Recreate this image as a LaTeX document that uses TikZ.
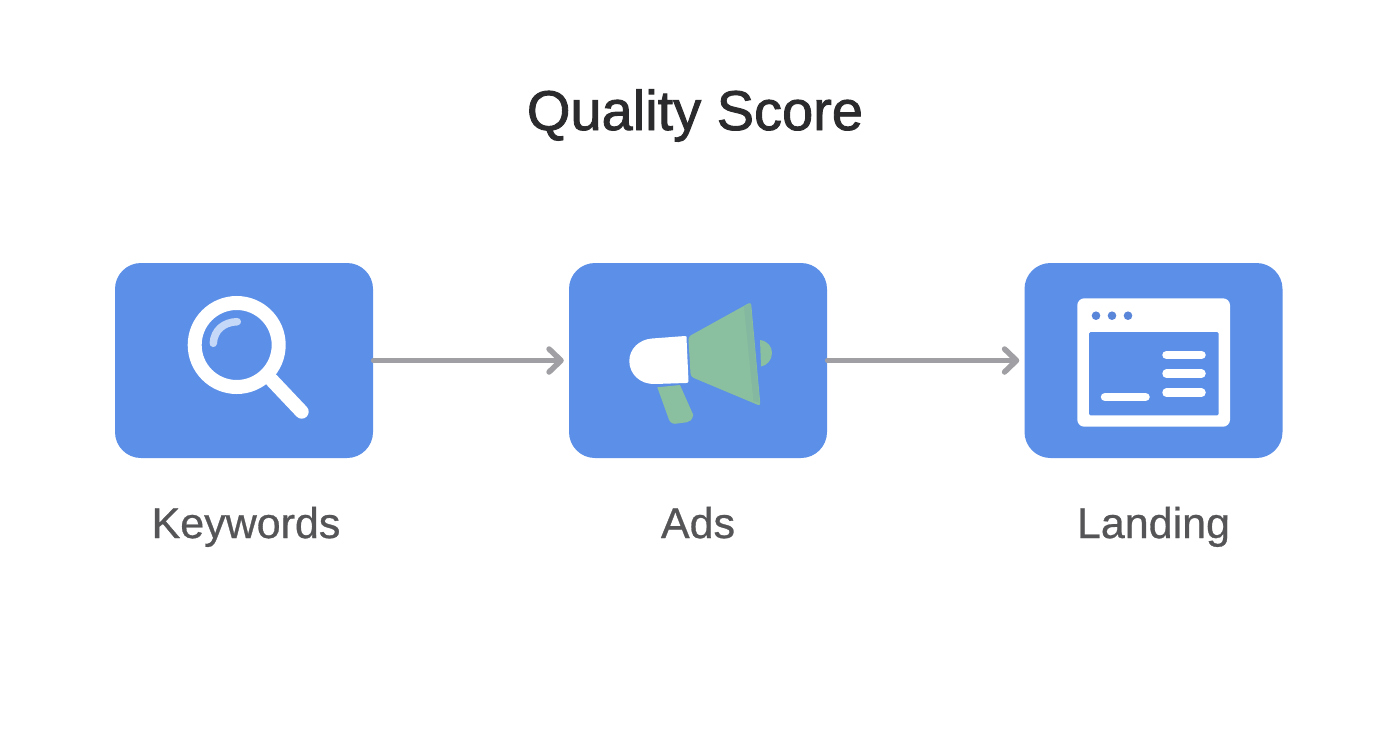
\documentclass[tikz,border=0pt]{standalone}
\usepackage{xcolor}
\usepackage{fontspec}
\setmainfont{Liberation Sans}
\newfontfamily\titlefont[FakeBold=1.6]{Liberation Sans}
\newfontfamily\labelfont[FakeBold=0.7]{Liberation Sans}
\usetikzlibrary{arrows.meta, positioning}
\definecolor{boxblue}{HTML}{5B8FE8}
\definecolor{dotblue}{HTML}{5A86DA}
\definecolor{conegreen}{HTML}{8ABF9F}
\definecolor{shadegreen}{HTML}{84B8A0}
\definecolor{arrowgray}{HTML}{A0A0A4}
\definecolor{titlegray}{HTML}{2B2B2D}
\definecolor{labelgray}{HTML}{555558}
\tikzstyle{card} = [rectangle, rounded corners=26pt, minimum width=258pt, minimum height=195pt, inner sep=0pt, fill=boxblue]
\tikzstyle{caption} = [text=labelgray, text height=32pt, text depth=10pt, inner sep=0pt, font=\fontsize{43}{48}\labelfont]
\tikzstyle{arrow} = [line width=4.5pt, arrowgray, line cap=round, -{Straight Barb[length=12pt,width=23pt,line width=5.5pt,round]}, shorten >=5pt]
\tikzstyle{glass} = [white, line width=14pt, line cap=round]
\tikzstyle{bar} = [white, line width=8.5pt, line cap=round]

\begin{document}
\begin{tikzpicture}[x=1pt, y=-1pt, node distance=166.5pt]
\useasboundingbox[fill=white] (0,0) rectangle (1392,752);

\node (title) at (695,130) [anchor=base, text=titlegray, font=\fontsize{56}{62}\titlefont] {Quality Score};

\node (keywords) at (244,360.5) [card] {};
\node (ads) at (698,360.5) [card] {};
\node (landing) at (1153.5,360.5) [card] {};

\node (keywordstext) [caption, below of=keywords, xshift=2pt] {Keywords};
\node (adstext) [caption, below of=ads] {Ads};
\node (landingtext) [caption, below of=landing] {Landing};

\draw [arrow] (keywords) -- (ads);
\draw [arrow] (ads) -- (landing);

% magnifier
\draw [glass] (271.7,380) -- (301.7,411.7);
\draw [glass] (236.7,345) circle (42);
\draw [white!65!boxblue, line width=7.5pt, line cap=round] (213.3,343.3) .. controls (214,330) and (224,322) .. (237.3,321.7);

% megaphone
\fill [conegreen] (760,340) .. controls (768,341) and (772,347) .. (772,353) .. controls (772,360) and (767,365.5) .. (761,366.5) -- cycle;
\fill [conegreen] (657.3,387.3) -- (680,385) -- (693.3,415) .. controls (692,420) and (690,422) .. (686.7,422.3) -- (675,423.8) .. controls (671,423.8) and (669,421) .. (668,417) -- cycle;
\fill [white] (685,336) .. controls (687,336) and (686.5,337) .. (686.5,338) -- (688.5,381) .. controls (688.5,382.5) and (687.5,383) .. (686,383) -- (655,384) .. controls (640,384.5) and (629.3,374) .. (629.3,361) .. controls (629.3,349) and (639,339.5) .. (652,338.5) -- cycle;
\fill [conegreen, rounded corners=3pt] (688.3,336.7) -- (751,302) -- (760.5,406) -- (690.7,376.7) -- cycle;
\fill [shadegreen] (744,306.5) -- (750.5,303.5) -- (759.5,402.5) -- (753.5,401) -- cycle;

% browser window
\fill [white, rounded corners=7pt] (1077.3,298.3) rectangle (1230,426.7);
\fill [boxblue, rounded corners=1.5pt] (1089,332) rectangle (1218.7,415.3);
\foreach \x in {1096,1112,1128}
  \fill [dotblue] (\x,315.7) circle (4.3);
\foreach \y in {355,373.7,392.7}
  \draw [bar] (1166.5,\y) -- (1201.5,\y);
\draw [bar] (1105,397) -- (1145.5,397);

\end{tikzpicture}
\end{document}
